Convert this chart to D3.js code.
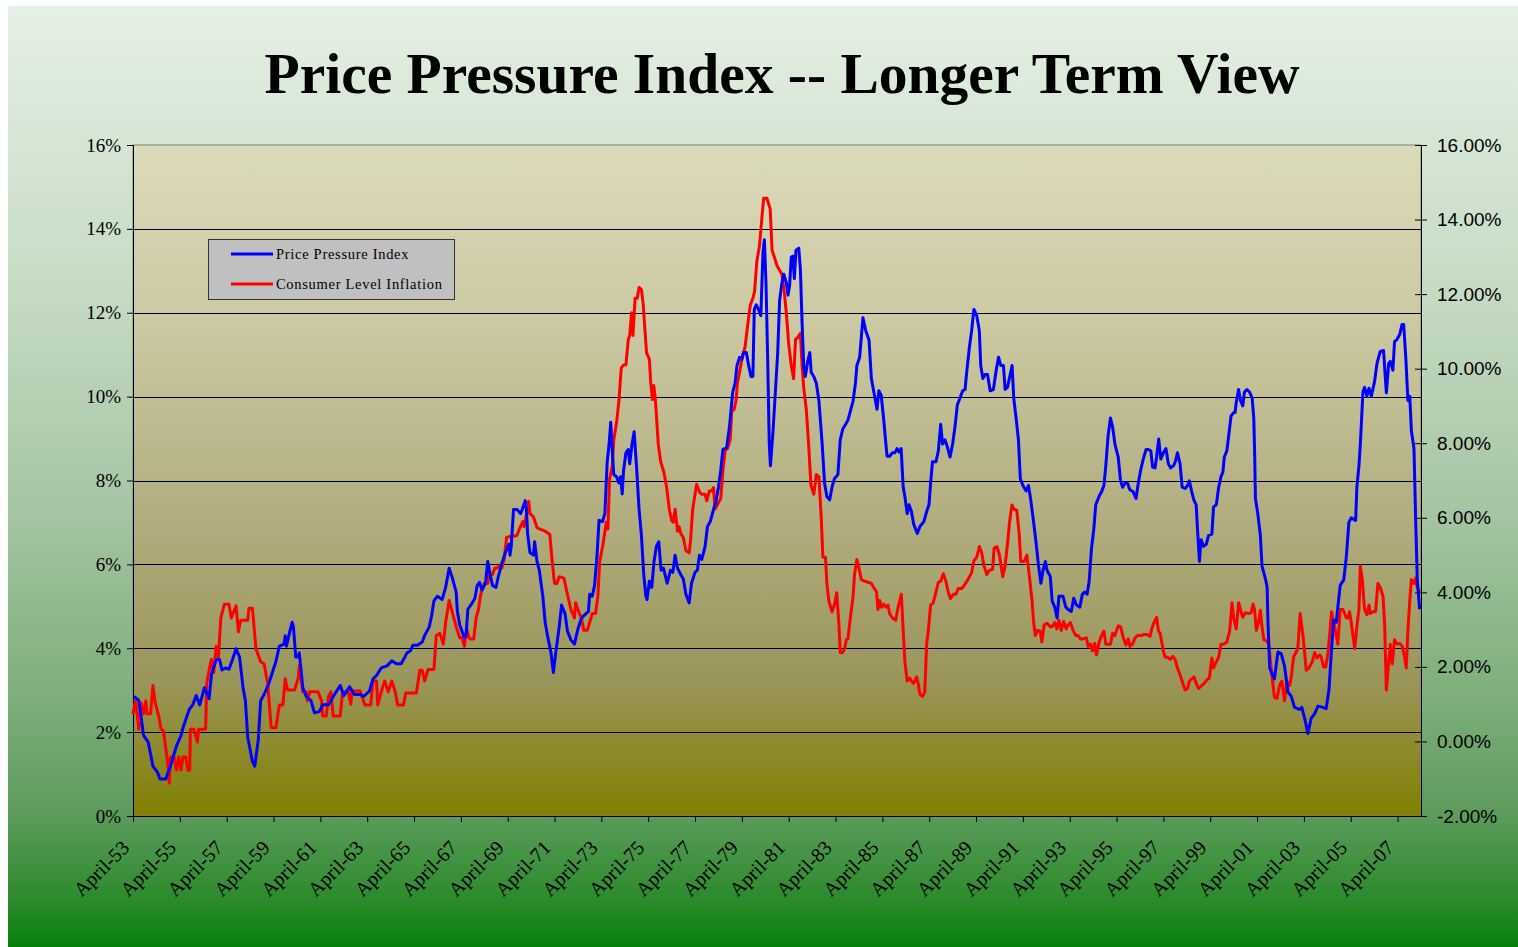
<!DOCTYPE html>
<html><head><meta charset="utf-8">
<script src="https://cdn.jsdelivr.net/npm/d3@7"></script>
<style>body{margin:0;background:#fff}svg{display:block}</style>
</head><body>
<svg id="chart" width="1518" height="947"></svg>
<script>
// ---------------- DATA ----------------
const chartTitle = "Price Pressure Index -- Longer Term View";
const seriesNames = ["Price Pressure Index", "Consumer Level Inflation"];
const xTickYears = [1953.25,1955.25,1957.25,1959.25,1961.25,1963.25,1965.25,1967.25,1969.25,1971.25,1973.25,1975.25,1977.25,1979.25,1981.25,1983.25,1985.25,1987.25,1989.25,1991.25,1993.25,1995.25,1997.25,1999.25,2001.25,2003.25,2005.25,2007.25];
const xTickLabels = ["April-53","April-55","April-57","April-59","April-61","April-63","April-65","April-67","April-69","April-71","April-73","April-75","April-77","April-79","April-81","April-83","April-85","April-87","April-89","April-91","April-93","April-95","April-97","April-99","April-01","April-03","April-05","April-07"];
const leftTicks = [0,2,4,6,8,10,12,14,16];
const rightTicks = [-2,0,2,4,6,8,10,12,14,16];

// Price Pressure Index (left axis, %)
const ppiYears = [
1953.3,1953.5,1953.7,1953.9,1954.1,1954.3,1954.4,1954.65,1954.85,1955.1,
1955.3,1955.4,1955.65,1955.8,1955.95,1956.1,1956.3,1956.5,1956.6,1956.8,
1956.95,1957.05,1957.2,1957.35,1957.5,1957.65,1957.8,1957.95,1958.05,1958.15,
1958.35,1958.45,1958.6,1958.7,1958.85,1959.05,1959.2,1959.35,1959.5,1959.7,
1959.75,1959.8,1959.95,1960.05,1960.1,1960.2,1960.3,1960.35,1960.5,1960.65,
1960.85,1961.0,1961.2,1961.35,1961.6,1961.8,1961.95,1962.1,1962.25,1962.5,
1962.7,1962.95,1963.1,1963.35,1963.5,1963.65,1963.85,1964.1,1964.3,1964.5,
1964.7,1964.8,1964.95,1965.1,1965.2,1965.4,1965.6,1965.7,1965.9,1966.0,
1966.1,1966.25,1966.45,1966.6,1966.75,1966.9,1967.05,1967.1,1967.2,1967.4,
1967.47,1967.55,1967.7,1967.85,1967.95,1968.05,1968.15,1968.3,1968.4,1968.5,
1968.6,1968.75,1968.85,1969.0,1969.15,1969.3,1969.35,1969.4,1969.5,1969.65,
1969.8,1969.87,1970.0,1970.05,1970.1,1970.2,1970.35,1970.4,1970.5,1970.6,
1970.75,1970.85,1970.95,1971.1,1971.2,1971.3,1971.45,1971.55,1971.7,1971.8,
1971.95,1972.1,1972.25,1972.4,1972.55,1972.7,1972.75,1972.86,1972.96,1973.06,
1973.15,1973.3,1973.4,1973.5,1973.58,1973.65,1973.72,1973.78,1973.9,1974.0,
1974.07,1974.14,1974.2,1974.3,1974.4,1974.46,1974.56,1974.65,1974.75,1974.86,
1974.96,1975.06,1975.15,1975.2,1975.3,1975.4,1975.5,1975.6,1975.7,1975.8,
1975.9,1976.06,1976.2,1976.3,1976.4,1976.5,1976.64,1976.75,1976.86,1977.0,
1977.1,1977.25,1977.35,1977.44,1977.54,1977.68,1977.78,1977.9,1978.04,1978.15,
1978.25,1978.35,1978.44,1978.6,1978.72,1978.86,1978.96,1979.04,1979.15,1979.25,
1979.32,1979.44,1979.54,1979.64,1979.72,1979.78,1979.86,1979.96,1980.06,1980.15,
1980.21,1980.28,1980.35,1980.42,1980.47,1980.58,1980.68,1980.78,1980.86,1980.96,
1981.04,1981.15,1981.22,1981.29,1981.36,1981.43,1981.49,1981.56,1981.68,1981.75,
1981.82,1981.89,1981.96,1982.06,1982.15,1982.21,1982.32,1982.43,1982.54,1982.68,
1982.78,1982.88,1983.0,1983.1,1983.2,1983.35,1983.45,1983.56,1983.68,1983.78,
1983.88,1984.0,1984.1,1984.16,1984.28,1984.35,1984.42,1984.54,1984.68,1984.78,
1984.92,1985.02,1985.1,1985.2,1985.3,1985.4,1985.45,1985.56,1985.68,1985.78,
1985.88,1985.96,1986.05,1986.14,1986.21,1986.31,1986.39,1986.49,1986.59,1986.74,
1986.85,1987.02,1987.14,1987.24,1987.31,1987.39,1987.54,1987.64,1987.74,1987.82,
1987.92,1988.02,1988.14,1988.25,1988.35,1988.45,1988.56,1988.68,1988.78,1988.85,
1988.96,1989.06,1989.16,1989.28,1989.39,1989.45,1989.54,1989.64,1989.74,1989.85,
1989.99,1990.11,1990.21,1990.31,1990.42,1990.49,1990.59,1990.71,1990.79,1990.86,
1990.96,1991.06,1991.14,1991.25,1991.39,1991.49,1991.59,1991.71,1991.82,1991.92,
1992.02,1992.11,1992.21,1992.28,1992.42,1992.5,1992.61,1992.71,1992.79,1992.96,
1993.08,1993.22,1993.32,1993.42,1993.54,1993.68,1993.79,1993.89,1993.99,1994.08,
1994.18,1994.28,1994.36,1994.51,1994.61,1994.71,1994.79,1994.89,1994.99,1995.08,
1995.18,1995.32,1995.42,1995.51,1995.61,1995.71,1995.82,1995.96,1996.08,1996.18,
1996.28,1996.39,1996.51,1996.61,1996.71,1996.79,1996.89,1996.96,1997.05,1997.14,
1997.25,1997.36,1997.46,1997.56,1997.68,1997.76,1997.85,1997.96,1998.05,1998.18,
1998.28,1998.36,1998.46,1998.56,1998.65,1998.71,1998.79,1998.86,1998.96,1999.08,
1999.18,1999.32,1999.39,1999.51,1999.61,1999.71,1999.79,1999.85,1999.96,2000.04,
2000.14,2000.25,2000.31,2000.36,2000.46,2000.54,2000.64,2000.71,2000.82,2000.93,
2001.04,2001.11,2001.15,2001.18,2001.28,2001.39,2001.46,2001.61,2001.68,2001.71,
2001.75,2001.79,2001.89,2001.99,2002.14,2002.28,2002.42,2002.57,2002.71,2002.85,
2003.06,2003.16,2003.28,2003.42,2003.56,2003.71,2003.85,2004.06,2004.2,2004.32,
2004.42,2004.52,2004.63,2004.8,2004.95,2005.06,2005.17,2005.27,2005.46,2005.51,
2005.6,2005.66,2005.77,2005.84,2005.94,2006.03,2006.13,2006.27,2006.37,2006.51,
2006.65,2006.77,2006.87,2006.94,2007.05,2007.12,2007.22,2007.34,2007.44,2007.51,
2007.6,2007.69,2007.77,2007.84,2007.95,2008.02,2008.09,2008.19];
const ppiValues = [
2.85,2.75,1.92,1.76,1.19,1.04,0.88,0.88,1.19,1.66,
1.92,2.13,2.54,2.65,2.87,2.65,3.06,2.80,3.37,3.73,
3.73,3.48,3.53,3.50,3.73,3.99,3.79,3.06,2.75,1.87,
1.30,1.19,1.82,2.75,2.90,3.16,3.42,3.68,4.05,4.10,
4.30,4.05,4.41,4.62,4.51,3.79,3.79,3.89,3.06,2.85,
2.75,2.46,2.49,2.65,2.65,2.85,2.98,3.11,2.87,3.08,
2.90,2.90,2.85,2.98,3.27,3.35,3.53,3.58,3.70,3.63,
3.63,3.73,3.89,3.94,4.07,4.07,4.15,4.30,4.51,4.77,
5.13,5.24,5.16,5.45,5.91,5.65,5.34,4.88,4.56,4.25,
4.30,4.93,5.05,5.19,5.50,5.57,5.39,5.55,6.07,5.76,
5.50,5.45,5.71,6.03,6.28,6.48,6.22,6.43,7.31,7.31,
7.21,7.31,7.52,7.31,6.74,6.28,6.22,6.54,6.07,5.86,
5.24,4.62,4.30,3.89,3.42,3.89,4.51,5.03,4.82,4.41,
4.20,4.10,4.46,4.72,4.80,4.88,5.29,5.24,5.50,6.17,
7.05,7.02,7.21,8.45,8.87,9.39,8.66,8.14,8.09,7.94,
8.09,7.68,8.25,8.66,8.74,8.40,8.87,9.16,8.35,7.31,
6.69,5.76,5.24,5.16,5.60,5.45,6.07,6.43,6.54,5.86,
5.91,5.55,5.86,5.81,6.22,5.91,5.76,5.65,5.29,5.08,
5.55,5.81,5.86,6.22,6.12,6.43,6.90,7.02,7.31,7.52,
7.84,8.25,8.74,8.78,9.28,10.11,10.32,10.74,10.94,10.89,
11.05,11.05,10.74,10.48,10.48,12.08,12.19,12.08,11.93,13.43,
13.74,12.71,10.94,8.87,8.35,9.18,10.11,11.05,12.29,12.71,
12.92,12.71,12.42,12.66,13.33,13.35,12.81,13.49,13.54,13.02,
11.77,10.74,10.48,10.84,11.05,10.58,10.48,10.32,9.90,8.87,
7.94,7.62,7.54,7.84,8.04,8.14,8.97,9.23,9.34,9.44,
9.65,9.90,10.32,10.74,10.94,11.41,11.88,11.57,11.35,10.43,
10.01,9.70,10.14,10.03,9.49,8.87,8.58,8.58,8.66,8.66,
8.76,8.68,8.76,7.84,7.62,7.21,7.42,7.26,6.95,6.74,
6.90,7.02,7.26,7.42,7.94,8.45,8.45,8.71,9.34,8.87,
8.97,8.81,8.56,8.87,9.28,9.80,9.96,10.14,10.17,10.58,
11.15,11.57,12.08,11.93,11.57,10.74,10.43,10.53,10.53,10.14,
10.17,10.63,10.94,10.74,10.74,10.17,10.22,10.53,10.74,9.96,
9.49,8.97,8.04,7.88,7.75,7.88,7.52,7.00,6.48,5.96,
5.55,5.86,6.07,5.86,5.71,5.13,4.98,4.72,5.24,5.24,
4.98,4.91,4.88,5.19,5.03,4.98,5.29,5.34,5.29,5.60,
6.38,6.85,7.42,7.63,7.73,7.88,8.35,9.08,9.49,9.28,
8.87,8.56,7.99,7.84,7.94,7.94,7.78,7.73,7.57,7.94,
8.25,8.51,8.74,8.74,8.71,8.32,8.30,8.56,8.99,8.51,
8.66,8.76,8.40,8.30,8.35,8.45,8.66,8.40,7.84,7.81,
7.88,7.99,7.73,7.52,7.42,6.80,6.07,6.59,6.43,6.48,
6.69,6.72,7.37,7.42,7.84,8.09,8.20,8.56,8.71,9.08,
9.54,9.62,9.62,9.86,10.17,9.91,9.78,10.11,10.17,10.11,
9.96,9.49,8.56,7.57,7.21,6.69,5.96,5.65,5.45,4.72,
4.10,3.53,3.39,3.27,3.91,3.87,3.58,2.96,2.85,2.59,
2.54,2.59,2.33,1.97,2.33,2.44,2.62,2.59,2.56,3.01,
3.89,4.67,4.62,5.50,5.63,6.17,7.00,7.11,7.05,7.83,
8.35,8.87,10.11,10.22,10.01,10.20,10.01,10.37,10.79,11.08,
11.10,10.09,10.79,10.84,10.63,11.31,11.36,11.48,11.72,11.72,
10.94,9.91,10.01,9.18,8.77,7.11,5.65,4.93];

// Consumer Level Inflation (right axis, %)
const cpiYears = [
1953.25,1953.36,1953.5,1953.6,1953.7,1953.8,1953.85,1954.0,1954.1,1954.2,
1954.35,1954.45,1954.55,1954.65,1954.75,1954.8,1954.85,1955.0,1955.1,1955.2,
1955.3,1955.38,1955.5,1955.6,1955.67,1955.7,1955.85,1956.0,1956.05,1956.35,
1956.4,1956.5,1956.6,1956.7,1956.8,1956.9,1957.0,1957.15,1957.35,1957.45,
1957.65,1957.75,1957.85,1958.15,1958.2,1958.35,1958.5,1958.7,1958.85,1959.0,
1959.15,1959.35,1959.5,1959.65,1959.75,1959.85,1960.15,1960.3,1960.35,1960.5,
1960.65,1960.7,1960.8,1961.0,1961.15,1961.3,1961.35,1961.5,1961.6,1961.7,
1961.8,1962.1,1962.2,1962.45,1962.55,1962.6,1962.95,1963.15,1963.4,1963.5,
1963.65,1963.7,1963.85,1964.0,1964.15,1964.3,1964.45,1964.55,1964.8,1964.9,
1965.35,1965.5,1965.6,1965.7,1965.85,1966.1,1966.2,1966.35,1966.5,1966.6,
1966.75,1966.9,1967.05,1967.2,1967.3,1967.4,1967.5,1967.6,1967.65,1967.8,
1967.9,1968.0,1968.1,1968.25,1968.4,1968.45,1968.6,1968.7,1968.8,1968.9,
1969.0,1969.1,1969.2,1969.35,1969.5,1969.65,1969.75,1969.9,1969.95,1970.05,
1970.15,1970.2,1970.25,1970.35,1970.5,1970.6,1970.85,1971.05,1971.15,1971.25,
1971.35,1971.45,1971.65,1971.8,1971.95,1972.1,1972.15,1972.3,1972.4,1972.5,
1972.65,1972.75,1972.86,1973.0,1973.1,1973.18,1973.32,1973.46,1973.53,1973.6,
1973.72,1973.78,1973.9,1974.0,1974.1,1974.2,1974.3,1974.4,1974.46,1974.54,
1974.6,1974.69,1974.78,1974.86,1974.96,1975.04,1975.1,1975.18,1975.3,1975.36,
1975.43,1975.49,1975.56,1975.68,1975.78,1975.92,1976.04,1976.15,1976.25,1976.32,
1976.4,1976.5,1976.57,1976.64,1976.75,1976.86,1977.0,1977.06,1977.15,1977.25,
1977.32,1977.44,1977.54,1977.68,1977.75,1977.86,1977.96,1978.04,1978.1,1978.25,
1978.35,1978.44,1978.54,1978.64,1978.75,1978.82,1978.92,1979.0,1979.06,1979.15,
1979.25,1979.32,1979.39,1979.49,1979.61,1979.72,1979.79,1979.89,1980.0,1980.08,
1980.18,1980.32,1980.46,1980.54,1980.64,1980.75,1980.86,1980.96,1981.06,1981.15,
1981.25,1981.36,1981.46,1981.54,1981.64,1981.75,1981.82,1981.89,1982.0,1982.1,
1982.2,1982.32,1982.43,1982.54,1982.64,1982.71,1982.82,1982.88,1982.96,1983.1,
1983.2,1983.3,1983.39,1983.45,1983.54,1983.64,1983.71,1983.78,1983.88,1984.0,
1984.06,1984.16,1984.25,1984.35,1984.49,1984.64,1984.78,1984.88,1985.0,1985.06,
1985.14,1985.21,1985.31,1985.39,1985.49,1985.56,1985.68,1985.82,1985.92,1986.06,
1986.14,1986.21,1986.31,1986.42,1986.49,1986.59,1986.71,1986.78,1986.85,1986.96,
1987.06,1987.14,1987.21,1987.31,1987.42,1987.54,1987.64,1987.74,1987.85,1987.96,
1988.06,1988.16,1988.28,1988.39,1988.49,1988.64,1988.78,1988.92,1989.06,1989.16,
1989.28,1989.39,1989.49,1989.59,1989.71,1989.82,1989.96,1990.02,1990.14,1990.25,
1990.39,1990.49,1990.59,1990.68,1990.78,1990.88,1990.99,1991.09,1991.16,1991.31,
1991.42,1991.54,1991.64,1991.71,1991.78,1991.88,1991.99,1992.06,1992.16,1992.28,
1992.42,1992.5,1992.61,1992.7,1992.79,1992.89,1992.99,1993.1,1993.18,1993.28,
1993.39,1993.51,1993.61,1993.71,1993.82,1993.96,1994.04,1994.14,1994.22,1994.32,
1994.39,1994.51,1994.61,1994.71,1994.79,1994.99,1995.08,1995.18,1995.32,1995.42,
1995.54,1995.65,1995.75,1995.82,1995.93,1996.04,1996.14,1996.28,1996.42,1996.56,
1996.68,1996.75,1996.85,1996.96,1997.04,1997.11,1997.18,1997.25,1997.32,1997.42,
1997.54,1997.65,1997.75,1997.85,1997.96,1998.08,1998.18,1998.28,1998.36,1998.46,
1998.56,1998.65,1998.75,1998.89,1998.99,1999.11,1999.21,1999.32,1999.39,1999.51,
1999.61,1999.71,1999.82,1999.96,2000.08,2000.18,2000.25,2000.36,2000.46,2000.54,
2000.64,2000.74,2000.89,2000.99,2001.08,2001.14,2001.22,2001.32,2001.39,2001.46,
2001.54,2001.65,2001.75,2001.82,2001.9,2001.99,2002.1,2002.21,2002.31,2002.42,
2002.52,2002.64,2002.71,2002.81,2002.92,2002.99,2003.09,2003.21,2003.35,2003.46,
2003.61,2003.71,2003.81,2003.92,2003.99,2004.09,2004.18,2004.28,2004.38,2004.43,
2004.56,2004.7,2004.8,2004.92,2005.06,2005.13,2005.2,2005.27,2005.42,2005.51,
2005.6,2005.66,2005.74,2005.84,2005.94,2006.03,2006.08,2006.2,2006.31,2006.41,
2006.51,2006.63,2006.7,2006.77,2006.84,2006.94,2007.02,2007.12,2007.22,2007.34,
2007.45,2007.55,2007.62,2007.69,2007.77,2007.84,2007.94,2008.02,2008.09,2008.19];
const cpiValues = [
0.74,1.09,0.33,1.03,0.74,1.09,0.74,0.74,1.50,1.03,
0.68,0.33,0.28,-0.19,-0.66,-1.12,-0.42,-0.42,-0.77,-0.42,
-0.77,-0.42,-0.42,-0.77,-0.77,0.33,0.33,-0.02,0.33,0.33,
1.56,1.91,2.20,1.85,2.55,2.26,3.31,3.68,3.68,3.31,
3.64,2.94,3.25,3.25,3.57,3.57,2.49,2.14,2.08,1.56,
0.37,0.37,0.98,0.98,1.68,1.38,1.38,1.68,2.03,1.33,
1.33,1.09,1.33,1.33,1.33,1.09,0.68,0.68,1.21,1.33,
0.68,0.68,1.33,1.33,1.00,1.35,1.35,0.98,0.98,1.62,
1.62,0.98,1.33,1.62,1.33,1.62,1.33,0.98,0.98,1.30,
1.30,1.91,1.91,1.62,1.93,1.93,2.84,2.90,2.61,3.19,
3.78,3.43,3.08,2.78,2.78,2.55,3.02,2.78,2.75,2.75,
3.31,3.54,3.95,4.24,4.24,4.48,4.48,4.65,4.65,4.73,
4.65,4.88,5.47,5.50,5.50,5.53,5.70,5.90,5.76,6.09,
6.44,6.11,6.09,6.02,5.74,5.70,5.64,5.55,4.83,4.24,
4.24,4.42,4.38,3.95,3.54,3.31,3.72,3.45,3.31,2.98,
2.98,3.19,3.43,3.43,3.89,4.83,5.29,5.88,5.70,7.04,
7.39,8.09,8.56,9.14,10.02,10.10,10.10,10.78,10.89,11.50,
10.89,11.89,11.89,12.18,12.12,11.71,11.13,10.43,10.25,9.61,
9.17,9.55,9.14,7.98,7.51,7.22,6.81,6.23,5.93,5.88,
6.23,5.64,5.76,5.58,5.47,5.12,5.06,5.41,6.23,6.63,
6.90,6.69,6.63,6.63,6.46,6.72,6.72,6.81,6.23,6.40,
6.52,7.28,7.80,7.86,8.09,8.85,8.91,9.14,9.61,9.90,
10.25,10.43,10.60,11.13,11.71,11.89,12.06,12.88,13.29,13.87,
14.57,14.57,14.28,13.17,12.99,12.76,12.64,12.53,12.06,11.48,
10.66,10.08,9.73,10.78,10.84,10.95,10.08,9.49,8.91,7.98,
6.87,6.63,7.16,7.10,5.99,4.94,4.94,4.24,3.78,3.48,
3.66,3.99,3.19,2.38,2.38,2.49,2.73,2.75,3.31,3.89,
4.48,4.88,4.65,4.34,4.30,4.27,4.24,4.13,4.01,3.54,
3.78,3.60,3.68,3.60,3.66,3.43,3.31,3.25,3.60,3.95,
2.96,2.14,1.62,1.70,1.62,1.56,1.73,1.56,1.27,1.21,
1.33,2.61,2.96,3.66,3.72,4.01,4.27,4.30,4.50,4.30,
4.01,3.83,3.95,3.95,4.10,4.10,4.22,4.36,4.53,4.85,
4.94,5.23,5.06,4.71,4.48,4.59,4.62,5.18,5.23,5.00,
4.42,4.71,5.29,5.88,6.34,6.23,6.20,5.58,4.83,4.83,
5.00,4.36,3.78,3.19,2.84,2.98,2.96,2.67,3.13,3.17,
3.08,3.08,3.19,3.02,3.25,2.98,3.22,3.02,3.13,3.19,
2.98,2.84,2.84,2.75,2.75,2.78,2.55,2.61,2.43,2.63,
2.32,2.67,2.84,2.96,2.61,2.61,2.90,2.84,3.10,3.08,
2.78,2.59,2.75,2.55,2.61,2.78,2.84,2.84,2.87,2.87,
2.82,3.02,3.19,3.33,2.96,2.90,2.67,2.43,2.26,2.26,
2.20,2.28,2.20,1.97,1.79,1.56,1.38,1.42,1.62,1.68,
1.73,1.56,1.42,1.50,1.56,1.65,1.70,2.24,1.97,2.14,
2.26,2.61,2.61,2.67,2.96,3.72,3.31,3.02,3.72,3.54,
3.33,3.45,3.43,3.45,3.68,3.54,2.98,3.22,3.52,3.08,
2.73,2.70,2.61,2.14,1.68,1.19,1.15,1.50,1.62,1.09,
1.62,1.50,1.73,2.26,2.40,2.49,3.43,2.84,1.91,1.97,
2.14,2.38,2.24,2.32,2.26,2.00,2.00,2.38,3.08,3.48,
3.08,2.61,3.54,3.54,3.31,3.31,3.48,3.19,2.49,3.08,
3.54,4.71,4.36,3.54,3.40,3.66,3.43,3.48,3.48,4.24,
4.13,3.89,3.08,1.38,1.91,2.61,2.08,2.73,2.61,2.63,
2.55,2.26,1.97,2.96,3.78,4.34,4.24,4.38,4.13,4.01];

// ---------------- CHART ----------------
const W = 1518, H = 947;
const plot = {left: 133, right: 1421, top: 145, bottom: 816};
const serif = "'Liberation Serif','Times New Roman',Times,serif";
const sans = "'Liberation Sans',Arial,Helvetica,sans-serif";
const svg = d3.select("#chart");
const defs = svg.append("defs");

const bg = defs.append("linearGradient").attr("id","bgGrad").attr("x1",0).attr("y1",0).attr("x2",0).attr("y2",1);
[[0,"#e4f0e4"],[0.3,"#c6dbc4"],[0.53,"#a7c5a5"],[0.74,"#7cae7a"],[0.86,"#5c9b5b"],[0.95,"#2c8a2c"],[1,"#07800a"]]
  .forEach(([o,c])=>bg.append("stop").attr("offset",o).attr("stop-color",c));
const pg = defs.append("linearGradient").attr("id","plotGrad").attr("x1",0).attr("y1",0).attr("x2",0).attr("y2",1);
[[0,"#dcdbb9"],[0.3,"#c9c69f"],[0.55,"#b2ae80"],[0.8,"#9a955a"],[1,"#808000"]]
  .forEach(([o,c])=>pg.append("stop").attr("offset",o).attr("stop-color",c));

svg.append("rect").attr("x",8).attr("y",6).attr("width",W-8).attr("height",H-6).attr("fill","url(#bgGrad)");
svg.append("rect").attr("x",plot.left).attr("y",plot.top).attr("width",plot.right-plot.left).attr("height",plot.bottom-plot.top)
  .attr("fill","url(#plotGrad)").attr("stroke","#808080").attr("stroke-width",1);

const x = d3.scaleLinear().domain([1953.25, 2008.25]).range([plot.left, plot.right]);
const yL = d3.scaleLinear().domain([0,16]).range([plot.bottom, plot.top]);
const yR = d3.scaleLinear().domain([-2,16]).range([plot.bottom, plot.top]);

// gridlines
svg.append("g").selectAll("line").data(leftTicks.filter(d=>d>0 && d<16)).join("line")
  .attr("x1",plot.left).attr("x2",plot.right)
  .attr("y1",d=>Math.round(yL(d))+0.5).attr("y2",d=>Math.round(yL(d))+0.5)
  .attr("stroke","#000").attr("stroke-width",1);

// axes
const gL = svg.append("g").attr("transform",`translate(${plot.left},0)`)
  .call(d3.axisLeft(yL).tickValues(leftTicks).tickFormat(d=>d+"%").tickSize(6).tickPadding(6));
gL.selectAll("text").attr("font-family",serif).attr("font-size",19).attr("fill","#000");
const gR = svg.append("g").attr("transform",`translate(${plot.right},0)`)
  .call(d3.axisRight(yR).tickValues(rightTicks).tickFormat(d=>d.toFixed(2)+"%").tickSize(6).tickPadding(10));
gR.selectAll(".tick line").attr("x1",-6).attr("x2",6);
gR.selectAll("text").attr("font-family",sans).attr("font-size",19).attr("fill","#000");
const gB = svg.append("g").attr("transform",`translate(0,${plot.bottom})`)
  .call(d3.axisBottom(x).tickValues(xTickYears).tickFormat((d,i)=>xTickLabels[i]).tickSize(6).tickSizeOuter(0));
gB.selectAll("text").attr("font-family",serif).attr("font-size",20).attr("fill","#000")
  .attr("text-anchor","end").attr("dy",null).attr("y",null)
  .attr("transform","translate(-3,33) rotate(-45)");
[gL,gR,gB].forEach(g=>{g.select(".domain").attr("stroke","#000"); g.selectAll(".tick line").attr("stroke","#000");});

// lines
const ppi = ppiYears.map((t,i)=>({t, v: ppiValues[i]}));
const cpi = cpiYears.map((t,i)=>({t, v: cpiValues[i]}));
if (ppiYears.length !== ppiValues.length || cpiYears.length !== cpiValues.length) console.error("length mismatch");
svg.append("path").datum(cpi).attr("fill","none").attr("stroke","#ff0000").attr("stroke-width",3).attr("stroke-linejoin","round")
  .attr("d", d3.line().x(d=>x(d.t)).y(d=>yR(d.v)));
svg.append("path").datum(ppi).attr("fill","none").attr("stroke","#0000ff").attr("stroke-width",3).attr("stroke-linejoin","round")
  .attr("d", d3.line().x(d=>x(d.t)).y(d=>yL(d.v)));

// legend
const lg = svg.append("g");
lg.append("rect").attr("x",208.5).attr("y",239.5).attr("width",246).attr("height",60).attr("fill","#c0c0c0").attr("stroke","#333").attr("stroke-width",1);
const legColors = ["#0000ff","#ff0000"];
seriesNames.forEach((name,i)=>{
  const yy = 254 + i*30;
  lg.append("line").attr("x1",231).attr("x2",273).attr("y1",yy).attr("y2",yy).attr("stroke",legColors[i]).attr("stroke-width",3);
  lg.append("text").attr("x",276).attr("y",yy+5).attr("font-family",serif).attr("font-size",14.5).attr("letter-spacing",0.7).attr("fill","#000").text(name);
});

// title
const title = svg.append("text").attr("x",782).attr("y",93).attr("text-anchor","middle")
  .attr("font-family",serif).attr("font-weight","bold").attr("font-size",60).attr("fill","#000").text(chartTitle);
const tl = title.node().getComputedTextLength();
title.attr("font-size", 60*1035/tl);
</script>
</body></html>
